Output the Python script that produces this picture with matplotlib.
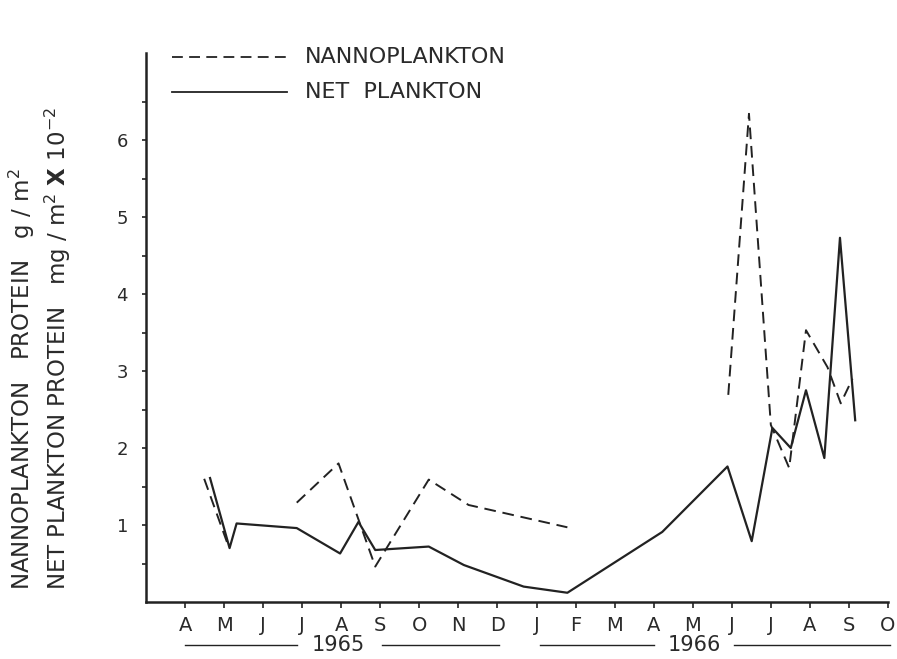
import numpy as np
import matplotlib
matplotlib.use("Agg")
import matplotlib.pyplot as plt

# months from April 1965 (index 0) to October 1966 (index 18)
month_labels = ["A", "M", "J", "J", "A", "S", "O", "N", "D",
                "J", "F", "M", "A", "M", "J", "J", "A", "S", "O"]

# net plankton protein (mg/m2 x 10^-2), x = month index
net_x = [0.64, 1.14, 1.32, 2.86, 3.97, 4.44, 4.87, 6.24, 7.14, 8.67, 9.79,
         12.22, 13.89, 14.51, 15.04, 15.51, 15.90, 16.37, 16.77, 17.16]
net_y = [1.61, 0.70, 1.02, 0.96, 0.63, 1.04, 0.675, 0.72, 0.48, 0.20, 0.12,
         0.91, 1.76, 0.79, 2.26, 2.00, 2.75, 1.87, 4.73, 2.36]

# nannoplankton protein (g/m2), nan = gap between sampling runs
nanno_x = [0.49, 1.10, np.nan,
           2.86, 3.93, 4.87, 6.24, 7.26, 9.79, np.nan,
           13.91, 14.44, 15.00, 15.47, 15.90, 16.45, 16.79, 17.09]
nanno_y = [1.60, 0.74, np.nan,
           1.29, 1.80, 0.46, 1.59, 1.26, 0.97, np.nan,
           2.69, 6.34, 2.30, 1.74, 3.53, 3.05, 2.58, 2.90]

years = ["1965", "1966"]

INK = "#222222"
TXT = "#2a2a2a"

plt.rcParams["font.family"] = ["DejaVu Sans"]

fig = plt.figure(figsize=(8.97, 6.59), dpi=100)
ax = fig.add_axes([146 / 897, 1 - 602 / 659, 742 / 897, 549 / 659])

ax.plot(nanno_x, nanno_y, color=INK, lw=1.4, dashes=(6, 3.5))
ax.plot(net_x, net_y, color=INK, lw=1.6)

ax.set_xlim(-1, 18.0)
ax.set_ylim(0, 549 / 77)

for s in ["top", "right"]:
    ax.spines[s].set_visible(False)
for s in ["left", "bottom"]:
    ax.spines[s].set_linewidth(1.8)
    ax.spines[s].set_color(INK)

ax.set_xticks(range(len(month_labels)))
ax.set_xticklabels(month_labels)
yt = np.arange(0.5, 7.0, 0.5)
ax.set_yticks(yt)
ax.set_yticklabels(["" if v != int(v) else str(int(v)) for v in yt])
ax.tick_params(axis="x", direction="out", length=4, width=1.2, color=INK,
               labelsize=14, labelcolor=TXT, pad=6)
ax.tick_params(axis="y", direction="out", length=3, width=1.2, color=INK,
               labelsize=13, labelcolor=TXT, pad=10)

# year bars under the month letters
tr = ax.get_xaxis_transform()
yb = -0.078
for (x0, x1, xt, x2, x3), yr in zip([(0.0, 2.86, 3.92, 5.04, 8.03),
                                     (9.08, 12.0, 13.05, 14.05, 18.05)], years):
    ax.plot([x0, x1], [yb, yb], color=INK, lw=1.0, transform=tr, clip_on=False)
    ax.plot([x2, x3], [yb, yb], color=INK, lw=1.0, transform=tr, clip_on=False)
    ax.text(xt, yb, yr, transform=tr, ha="center", va="center",
            fontsize=15, color=TXT)

# legend drawn by hand
ax.plot([0.035, 0.19], [0.993, 0.993], color=INK, lw=1.3, dashes=(6, 3.5),
        transform=ax.transAxes, clip_on=False)
ax.plot([0.035, 0.19], [0.929, 0.929], color=INK, lw=1.3,
        transform=ax.transAxes, clip_on=False)
ax.text(0.214, 0.993, "NANNOPLANKTON", transform=ax.transAxes, va="center",
        fontsize=16, color=TXT)
ax.text(0.214, 0.929, "NET  PLANKTON", transform=ax.transAxes, va="center",
        fontsize=16, color=TXT)

# axis titles, two rotated lines
fig.text(22 / 897, 1 - 590 / 659, "NANNOPLANKTON   PROTEIN   g / m$^2$",
         rotation=90, ha="center", va="bottom", fontsize=16.5, color=TXT)
fig.text(58 / 897, 1 - 590 / 659,
         "NET PLANKTON PROTEIN   mg / m$^2$ $\\mathbf{X}$ 10$^{-2}$",
         rotation=90, ha="center", va="bottom", fontsize=16.5, color=TXT)

fig.savefig("out.png", dpi=100)
